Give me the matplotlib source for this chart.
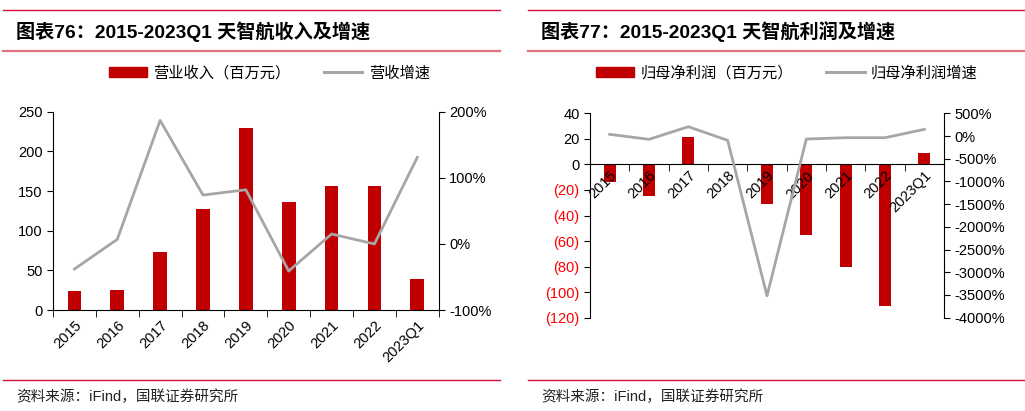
import matplotlib.pyplot as plt
from matplotlib.lines import Line2D
from matplotlib.patches import Patch
from matplotlib.ticker import FuncFormatter

plt.rcParams['font.family'] = ['Liberation Sans', 'Noto Sans CJK SC']

# Data
years = ['2015', '2016', '2017', '2018', '2019', '2020', '2021', '2022', '2023Q1']
revenue = [24, 25.6, 73.5, 127, 229, 136, 156, 156, 39.5]  # 百万元
revenue_growth = [-38, 7, 187, 74, 82, -41, 15, 0, 131]  # %
profit = [-13.8, -25, 21.4, -0.5, -31, -55, -80, -111, 8.6]  # 百万元
profit_growth = [37, -73, 205, -95, -3517, -66, -37, -37, 147]  # %

red = '#C00000'
gray = '#A6A6A6'
rule = '#D0103A'

fig = plt.figure(figsize=(10.25, 4.11), dpi=100)
x = range(len(years))


def frame(x0, x1, title, leg1, leg2, legx):
    # red rules, title, legend, source
    fig.add_artist(Line2D([x0, x1], [1 - 10 / 411, 1 - 10 / 411], color=rule, lw=1.0))
    fig.add_artist(Line2D([x0, x1], [1 - 51 / 411, 1 - 51 / 411], color='#E0707F', lw=1.6))
    fig.add_artist(Line2D([x0, x1], [1 - 380 / 411, 1 - 380 / 411], color=rule, lw=1.0))
    fig.text(x0 + 0.013, 1 - 32 / 411, title, fontsize=13.8, fontweight='bold', va='center')
    fig.text(x0 + 0.013, 1 - 397 / 411, '资料来源：iFind，国联证券研究所', fontsize=10.5, va='center',
             color='#222222')
    handles = [Patch(color=red), Line2D([0], [0], color=gray, lw=2.2)]
    fig.legend(handles, [leg1, leg2], loc='center left', bbox_to_anchor=(legx, 1 - 73 / 411),
               ncol=2, frameon=False, fontsize=11, handlelength=2.5, handleheight=0.6,
               columnspacing=2.2, handletextpad=0.4)


def style(ax, ax2):
    ax.spines['top'].set_visible(False)
    ax.spines['right'].set_visible(False)
    ax2.spines['top'].set_visible(False)
    ax2.spines['left'].set_visible(False)
    ax2.spines['bottom'].set_visible(False)
    ax.tick_params(axis='y', direction='out', length=4, labelsize=10.5)
    ax2.tick_params(axis='y', direction='out', length=4, labelsize=10.5)
    ax.set_xticks([i + 0.5 for i in range(-1, len(years))], minor=True)
    ax.set_xticks(list(x))
    ax.set_xticklabels(years, rotation=45, ha='right', va='top', rotation_mode='anchor', fontsize=10.5)
    ax.tick_params(axis='x', which='major', length=0, pad=6)
    ax.tick_params(axis='x', which='minor', length=5, direction='out')
    ax.set_xlim(-0.5, len(years) - 0.5)
    ax.set_axisbelow(False)


# Left panel: revenue
frame(0.003, 0.488, '图表76：2015-2023Q1 天智航收入及增速', '营业收入（百万元）', '营收增速', 0.093)
ax = fig.add_axes([0.0517, 0.2457, 0.3763, 0.4823])
ax2 = ax.twinx()
ax.bar(x, revenue, width=0.32, color=red, zorder=2)
ax2.plot(x, revenue_growth, color=gray, lw=2.0)
ax.set_ylim(0, 250)
ax.set_yticks([0, 50, 100, 150, 200, 250])
ax2.set_ylim(-100, 200)
ax2.set_yticks([-100, 0, 100, 200])
ax2.yaxis.set_major_formatter(FuncFormatter(lambda v, p: f'{v:.0f}%'))
style(ax, ax2)

# Right panel: profit
frame(0.515, 1.0, '图表77：2015-2023Q1 天智航利润及增速', '归母净利润（百万元）', '归母净利润增速', 0.568)
bx = fig.add_axes([0.5756, 0.227, 0.3454, 0.4973])
bx2 = bx.twinx()
bx.bar(x, profit, width=0.31, color=red, zorder=2)
bx2.plot(x, profit_growth, color=gray, lw=2.0)
bx.set_ylim(-120, 40)
ticks = list(range(-120, 41, 20))
bx.set_yticks(ticks)
bx.set_yticklabels([f'({-t})' if t < 0 else f'{t}' for t in ticks])
for t, lab in zip(ticks, bx.get_yticklabels()):
    if t < 0:
        lab.set_color('#FF0000')
bx2.set_ylim(-4000, 500)
bx2.set_yticks(list(range(-4000, 501, 500)))
bx2.yaxis.set_major_formatter(FuncFormatter(lambda v, p: f'{v:.0f}%'))
bx.spines['bottom'].set_position(('data', 0))
style(bx, bx2)
bx.tick_params(axis='x', which='major', pad=3)

fig.savefig('out.png', dpi=100)
